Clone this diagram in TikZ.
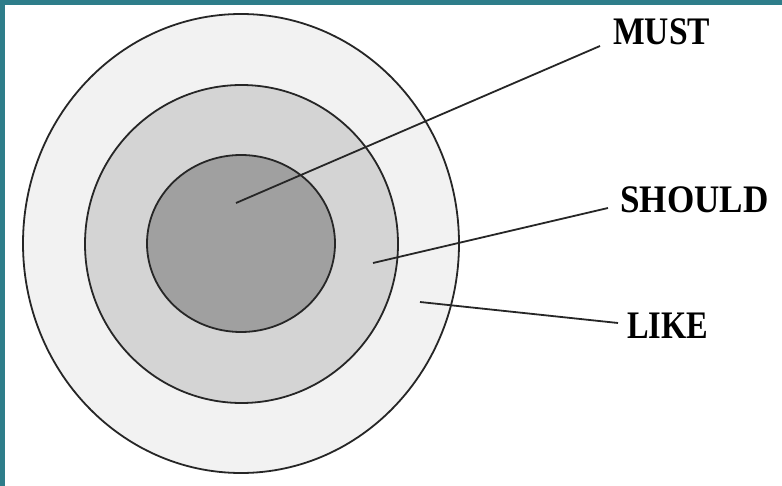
\documentclass[tikz,border=0pt]{standalone}
\usepackage{graphicx}
\usepackage{fontspec}
\setmainfont{Liberation Serif}
\definecolor{frame}{HTML}{2E7D8A}
\definecolor{outerfill}{HTML}{F2F2F2}
\definecolor{midfill}{HTML}{D4D4D4}
\definecolor{innerfill}{HTML}{A0A0A0}
\begin{document}
\begin{tikzpicture}[x=1pt,y=-1pt,
  ring/.style={draw=black!85,line width=1.8pt},
  leader/.style={draw=black!85,line width=1.8pt},
  lbl/.style={anchor=base west,inner sep=0pt,font=\fontsize{39}{41}\selectfont\bfseries}]
\useasboundingbox (0,0) rectangle (782,486);
\fill[white] (0,0) rectangle (782,486);
\fill[frame] (0,0) rectangle (782,5);
\fill[frame] (0,0) rectangle (5,486);
% rings
\path[ring,fill=outerfill] (241,243.5) ellipse [x radius=218,y radius=229.5];
\path[ring,fill=midfill] (241.5,244) ellipse [x radius=156.5,y radius=159];
\path[ring,fill=innerfill] (241,243.5) ellipse [x radius=94,y radius=88.5];
% labels
\node[lbl] (must) at (613,45) {\scalebox{0.86}[1]{MUST}};
\node[lbl] (should) at (620,213) {\scalebox{0.90}[1]{SHOULD}};
\node[lbl] (like) at (627,339) {\scalebox{0.83}[1]{LIKE}};
% leader end points
\coordinate (mustin) at (236,203);
\coordinate (mustout) at (600,46);
\coordinate (shouldin) at (373,263);
\coordinate (shouldout) at (608,208);
\coordinate (likein) at (420,302);
\coordinate (likeout) at (618,323);
\draw[leader] (mustin) -- (mustout);
\draw[leader] (shouldin) -- (shouldout);
\draw[leader] (likein) -- (likeout);
\end{tikzpicture}
\end{document}
